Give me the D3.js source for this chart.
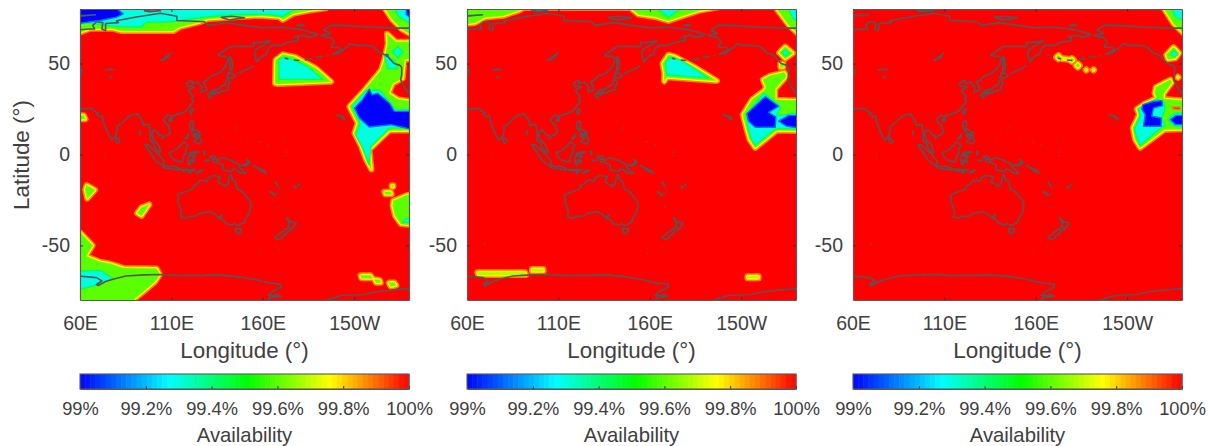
<!DOCTYPE html>
<html><head><meta charset="utf-8">
<script src="https://d3js.org/d3.v7.min.js"></script>
<style>
html,body{margin:0;padding:0;background:#fff;overflow:hidden}
svg{display:block}
text{font-family:"Liberation Sans",Arial,sans-serif;fill:#404040}
</style></head><body>
<svg id="c" width="1212" height="446"></svg>
<script>
// ---------- tick labels and text ----------
const lonTicks=[60,110,160,210];
const lonTickLabels=["60E","110E","160E","150W"];
const latTicks=[-50,0,50];
const cbTicks=[99,99.2,99.4,99.6,99.8,100];
const cbTickLabels=["99%","99.2%","99.4%","99.6%","99.8%","100%"];
const lonDomain=[60,240], latDomain=[-80,80], cbDomain=[99,100];
// ---------- availability levels (%) ----------
const vBlue=99.0, vCyan=99.3, vGreen=99.6, vYellow=99.68, vYellowEdge=99.77, vOrange=99.88, vFull=100;

// ---------- panel 1 contours [lon,lat] ----------
const p1Green=[
 [[58,66.4],[65.5,69.2],[78.2,69.2],[82.8,67.9],[111,67.9],[114.6,70.1],[125.5,72.8],[130,74.6],[158.3,76.4],[169.2,75.5],[171,74.1],[176.5,77.4],[185.6,79.2],[194.7,80.5],[194.7,82],[58,82]],
 [[226,82],[227,80],[231,74],[236,69],[241,66],[241,82]],
 [[228,66.4],[232.9,61.9],[242,61.9],[242,52.8],[237.5,52.2],[236.5,41.9],[231.1,39.1],[228.9,33.7],[233.8,30.4],[242,29.1],[242,13.3],[229.3,13.3],[218.3,2.7],[219.4,-8.2],[216.5,-2.7],[213.8,4.6],[210.2,11.8],[212,17.3],[207.4,26.4],[216.5,36.4],[224.7,46.4],[226.5,51.9],[228.4,61]],
 [[167,51.9],[171,55],[177.4,53.7],[189.2,47.3],[197.4,40],[168.3,38.8],[166.7,39.1]],
 [[58,21.5],[62,21.5],[63,19.5],[58,19.5]],
 [[63.6,-16.9],[68.2,-19.5],[64,-24.2],[62.9,-19.5]],
 [[97.9,-27.5],[93.7,-33.7],[91.3,-32.2],[93.7,-29.1]],
 [[58,-42.8],[60,-42.8],[66.9,-50],[63.3,-55.9],[70.9,-59],[76.4,-60],[83.7,-62.4],[101.9,-62.8],[103.7,-66],[101,-70],[94.6,-75.5],[90,-79.2],[89,-82],[58,-82]],
 [[231.4,-25.5],[238.7,-22.4],[242,-21.8],[242,-38.8],[235.6,-38.2],[232.4,-33.7],[231.1,-28.2]],
 [[226.5,-20.6],[230,-20.6],[230.5,-21.8],[227,-21.8]],
 [[230.6,-17],[231.4,-17],[231.4,-17.8],[230.6,-17.8]],
 [[213.5,-66.5],[219,-66.5],[220,-68],[214,-68]],
 [[221,-68.7],[224,-69],[224.5,-70.5],[222,-70.5]],
 [[229,-70.5],[232,-70.5],[233,-72],[230,-72.5]]
];
const p1Cyan=[
 [[59,73],[71,71.5],[78,70.5],[88.2,70.1],[93.7,70.1],[96.4,72.8],[105.5,72.8],[111.9,73.3],[125.5,75.2],[143.7,77],[163.7,77],[171,75.9],[174.7,78.3],[180,80.6],[180,82],[59,82]],
 [[232,81],[234,76],[241,72],[241,81]],
 [[208.9,26.4],[216.5,35.1],[223.8,35.5],[232.9,24.6],[242,24.6],[242,14.6],[229.3,14.6],[219.3,4.6],[218,-5.5],[214.7,3.6],[210.7,10.9],[213.2,16.9]],
 [[231.1,56.4],[233.8,59.2],[236.9,56.4],[233.8,53.3]],
 [[226.5,54.6],[232,51.9],[233.8,47.3],[228.4,47.3]],
 [[168.8,52.2],[171.9,53.7],[177.4,51.9],[184.7,48.2],[192.9,41.3],[168.8,41.3]],
 [[58,-64.2],[71,-63.7],[78,-68],[69,-71.9],[58,-74.6]],
 [[236.5,-37.5],[241,-37],[241,-35],[238,-35.5]]
];
const p1Blue=[
 [[59,72],[71,73.7],[80,75.5],[83.7,77.3],[79,81],[59,81]],
 [[238.5,81],[238.5,77],[241,75],[241,81]],
 [[210.2,25.5],[214.7,30.4],[218.3,35.9],[219.8,32.8],[222.9,33.7],[229.3,28.2],[232,23.7],[242,23.7],[242,13.7],[230.2,16.4],[218.3,15.1],[212.9,20]],
 [[227.5,55],[228.5,55],[228.5,54],[227.5,54]]
];
// ---------- panel 2 contours ----------
const p2Green=[
 [[58,71.7],[64.4,72.4],[69.9,75.4],[79.9,76.3],[88,79],[91.8,81],[58,82]],
 [[90,80.6],[151,80.6],[151,82],[90,82]],
 [[149.2,82],[149.2,80.8],[153.8,77],[162.9,75.7],[170.2,73.5],[178.4,76.3],[186.7,79],[197.6,81],[198,82]],
 [[228,82],[236,71.2],[241,66.5],[241,82]],
 [[167,50],[170.2,54.8],[173.9,53.8],[183.9,48.4],[196.7,40.5],[169.3,42.5],[167.9,40.2],[168,44.7]],
 [[230.8,56],[234.1,59.3],[238.3,55.7],[234.1,52.7]],
 [[231.5,50],[233,50],[233,48],[231.5,48]],
 [[221.9,41.1],[225.9,43.3],[233.6,45.1],[234.7,42.9],[228.6,36],[228.6,30.1],[242,29.6],[242,13],[229.5,13.3],[217.7,3.7],[214.6,8.2],[212.8,14.6],[210.9,21.9],[215.9,30.1],[222.6,35.2],[223.7,37]]
];
const p2Yellow=[
 [[65.7,-64.8],[91.8,-64.8],[92.3,-66.2],[66.2,-66.2]],
 [[95.6,-63],[101.8,-63],[101.8,-64.2],[95.6,-64.2]],
 [[213.5,-67],[219.5,-67],[219.5,-68],[213.5,-68]]
];
const p2Cyan=[
 [[163,81],[170.2,75.4],[178,81]],
 [[236,81],[238,75],[241,73],[241,81]],
 [[168.4,50.2],[171.1,53.5],[176.6,52],[183.9,47.5],[192.1,42],[169.3,43.8]],
 [[232.3,56],[234,57.5],[236.5,55.7],[234,54]],
 [[212.8,21.9],[222.6,33.8],[231.7,26.1],[229.5,21.4],[242,23],[242,14],[228.6,14.2],[217.7,4.9],[215.3,9.1],[213.7,14.6]]
];
const p2Blue=[
 [[213.1,22.4],[223.2,31.9],[230.5,26.5],[225,23.2],[229,20.6],[228.6,15],[217.7,15],[214,18.3]],
 [[230.5,18.3],[235.9,21.5],[242,21.5],[242,14.6],[235,15.5]]
];
// ---------- panel 3 contours ----------
const p3Green=[
 [[229,82],[235.4,72],[241,66.5],[241,82]],
 [[231.4,54.8],[235.4,59],[238.5,55.7],[236.3,52.9],[232.3,52.4]],
 [[225.7,37],[233.6,41.1],[234.5,39.6],[229.9,33.4],[229.9,30.5],[242,29.5],[242,14],[230.5,13.7],[217.1,3.7],[214.4,8.2],[213.1,14.6],[216.6,21.9],[215.3,25],[219.5,27.9],[226.3,31],[225,33.8]],
 [[171.2,53.5],[172.4,54.7],[173.6,53.5],[172.4,52.3]],
 [[178.5,52],[179.7,53],[180.9,52],[179.7,51]],
 [[181.9,48.9],[183,50],[184.1,48.9],[183,47.8]]
];
const p3Yellow=[
 [[174,53],[178,52.6],[178,52.2],[174,52.6]],
 [[187.3,46.5],[187.6,46.8],[187.9,46.5],[187.6,46.2]],
 [[191.3,46.5],[191.6,46.8],[191.9,46.5],[191.6,46.2]],
 [[237.5,42.5],[237.8,42.8],[238.1,42.5],[237.8,42.2]]
];
const p3Holes=[[[234.5,26.1],[239,26.1],[239,24.6],[235.4,25]]];
const p3Cyan=[
 [[234.5,81],[236,76],[241,73.5],[241,81]],
 [[233.6,55.3],[235.8,57.5],[237.8,54.8],[235.4,53.8]],
 [[214,14],[217.1,21],[216.2,25],[219.9,27.4],[226.3,30.7],[230.5,28.3],[230.5,24.6],[229,20],[230.8,15.9],[228,14.2],[217.1,4.9],[215.3,9.1]],
 [[232.3,19.2],[236.3,22.8],[242,22.8],[242,15],[235.4,15.9]]
];
const p3Blue=[
 [[218.6,27.4],[224.4,29.2],[229,29.6],[229.4,26.8],[224.4,25.6],[223.5,21],[228.6,20.1],[228.6,15.5],[218.9,15.5],[219.9,21.9],[218,25]],
 [[233.6,19.2],[236.8,21.5],[242,21.5],[242,16.5],[236.5,16.4]]
];

// ---------- coastlines [lon,lat] ----------
const coastAsiaSouth=[[58,25.5],[61.5,25.1],[66.5,25.4],[67.5,24],[70,23],[69,22.3],[70.5,20.8],[72.2,21.2],[72.7,19],[73.5,16],[74.8,13],[76.3,9.8],[77.5,8.1],[79,9.3],[79.9,11],[80.3,13.5],[80.2,15.5],[82.3,16.7],[85,19.5],[87,21],[88.5,21.7],[90.5,22.3],[91.8,22.2],[92.5,20.5],[94.3,18.2],[94.5,16],[96,16.4],[97.6,16.5],[98.5,12.5],[98.3,8.2],[100.3,5.6],[101.3,3],[103.5,1.3],[104.2,1.5],[103.4,4],[102.3,6.2],[100.5,7.2],[99.9,9.3],[99.2,10.8],[100,13.4],[100.9,13.4],[102.5,12],[103,11],[104.8,10.4],[105,8.7],[106.7,10.3],[109.2,11.5],[109.3,13],[108.3,16],[106.5,17.7],[105.7,19],[106.6,20.5],[108,21.6],[110,21],[110.3,20.3],[110.5,21.2],[113.5,22.2],[116.7,23.2],[118.5,24.6],[120,26.5],[121.9,29],[121,30.6],[122,31.5],[120.9,33],[119.3,35],[120.5,36.2],[122.5,37],[121,37.7],[119,37.3],[118,39],[121,40.8],[121.5,39],[124.3,40],[125.2,38.5],[126.5,37.5],[126.3,35],[126.5,34.4],[129,35.2],[129.5,36],[128.5,38],[127.5,39.8],[129.8,41],[130.7,42.3],[132,43.2],[135.5,44.5],[138.5,47],[140.4,50],[141,53],[139,54],[137,54],[135.3,54.7],[138,56.5],[142,59.3],[149,59.6],[155,59.3],[155,61.5],[160,61.8],[164,62.5],[160,60],[156,57.5],[155.6,55],[156.7,51],[158.5,53],[160,54.5],[162,55],[163,58],[165,60],[170,60],[174,61.8],[179,62.5],[179.5,64.8],[177.5,64.7],[182,65.5],[186,64.5],[190.3,66],[187,67],[180,68.9],[170,70],[160,69.7],[150,71],[140,72.5],[130,71],[128,73],[113,73.7],[113,76],[104,77.7],[90,75.5],[80,73.5],[81,72.5],[74,72],[74,68],[72,69],[72.5,72.5],[69,73],[67,71],[68,69],[66,69],[58,68.5]];
const coastAlaska=[[240,69.5],[235,69.5],[220,70],[204,71],[197,71],[193.5,68.3],[197,66.5],[192,65.5],[195,64.5],[197,64.5],[199,62],[197.5,59],[202,58.8],[203,57.5],[198,55.2],[201,55.5],[204,57.5],[206,59],[208,61],[211,60],[215,60],[220,59.5],[222,58],[224,56],[228,54.5],[230,52],[232,50],[235,49],[236,48],[236,44],[235.5,41],[237.5,37],[239,34.5],[242,33]];
const coastAntarcticaA=[[58,-66.7],[69,-67.7],[72,-69.5],[69,-71.5],[70,-72],[74,-69.8],[78,-68.6],[85,-66.8],[95,-66.2],[105,-66],[115,-66.6],[125,-66.5],[135,-66.2],[145,-67],[155,-68.6],[163,-70.5],[170.3,-71.4],[170,-73],[166,-75],[163,-77.5],[167,-77.5],[170,-78],[164,-78.5],[163,-80],[164,-82]];
const coastAntarcticaB=[[195,-80],[200,-78.5],[203,-77.5],[215,-77],[223,-75.3],[230,-74.6],[240,-73.7],[242,-73.5]];
const coastIslands=[
 [[60,76.2],[68.5,76.8],[60,76.1]],
 [[95,79],[100,79.8],[104,79],[98,78.5],[95,79]],
 [[137,75.5],[143,76],[150,75.2],[142,74],[137,75.5]],
 [[178.5,71],[181,71.5],[182.5,71],[178.5,71]],
 [[142,54],[143,52],[143.5,49],[143,46.5],[142,46],[142,50],[142,54]],
 [[140,42],[141.5,45.3],[145,43.5],[143,42],[141,42.5],[140,42]],
 [[131,34],[133,35.5],[136,36],[137,37.3],[139.5,38.5],[140,40.5],[141,41.3],[142,39.5],[141,37],[140.8,35.5],[139,35],[137,34.6],[135.7,33.5],[135,34.5],[132.5,34],[131,34]],
 [[130,33.3],[131.7,33.7],[131.6,31.5],[130.5,31.2],[130,33.3]],
 [[132.5,33.8],[134.5,34.2],[134,33.3],[133,32.8],[132.5,33.8]],
 [[146,44.5],[148.5,45.5],[150,46.3],[153,47.5],[155,49]],
 [[121,25],[122,24.7],[120.8,22],[120,23.5],[121,25]],
 [[108.8,19.5],[110.5,20],[110.3,18.5],[109,18.3],[108.8,19.5]],
 [[120.5,18.3],[122,18.3],[122,16],[121.6,14],[124,13],[123,13.5],[120.7,13.8],[120,16],[120.5,18.3]],
 [[122,7],[123.5,8.5],[125.5,9.8],[126.5,7.5],[125.5,5.8],[124,6.5],[122,7]],
 [[117.2,8.4],[119.5,11.3],[119,9.5],[117.2,8.4]],
 [[121,12.5],[121.5,13.4],[121.2,12.3],[121,12.5]],
 [[122,11.8],[123.2,11.5],[123,9.5],[122.3,10],[122,11.8]],
 [[124.3,12.5],[125.7,12.3],[125.3,10.2],[124.5,11],[124.3,12.5]],
 [[123.4,11.2],[124,10.3],[123.4,9.5],[123.4,11.2]],
 [[109,1.5],[111,1.5],[113,3.2],[115,5],[116.8,7],[119,5.2],[117.8,3],[118,1],[116.5,-1],[116,-4],[114.5,-4],[111.5,-3],[110,-1.5],[109,0.5],[109,1.5]],
 [[95.3,5.6],[97.5,5.2],[100.5,2.2],[103.5,0],[104.5,-2],[106,-3.2],[105.7,-5.8],[104.5,-5.8],[101,-3],[98.8,0.5],[97,3],[95.3,5.6]],
 [[105.2,-6.8],[106.8,-6],[108.5,-6.7],[110.8,-6.4],[112.7,-7],[114.5,-7.8],[114.3,-8.6],[110,-8],[106.5,-7.4],[105.2,-6.8]],
 [[119.5,-5.5],[119,-3],[119.8,0.5],[121,1.2],[125,1.5],[123,0.4],[120.3,0.3],[121,-1],[123.3,-0.9],[122,-2],[122.5,-4.5],[121.5,-4],[121,-2.8],[120.4,-3],[120.4,-5.5],[119.5,-5.5]],
 [[115,-8.2],[116.8,-8.3],[119,-8.3],[120,-8.4],[123,-8.3],[122.8,-8.8],[119,-8.9],[116,-8.9],[115,-8.2]],
 [[119.2,-9.5],[120.7,-9.7],[120.3,-10.2],[119.2,-9.5]],
 [[123.5,-10.3],[125,-9],[127.2,-8.4],[125,-9.8],[123.5,-10.3]],
 [[127.5,2],[128.3,1.5],[128,-0.5],[127.7,0.8],[127.5,2]],
 [[127.9,-3],[130.8,-3.2],[129,-3.5],[127.9,-3]],
 [[131,-0.8],[134,-0.8],[135,-3.3],[138,-1.6],[141,-2.6],[145,-4.3],[147.8,-6.2],[147,-6.8],[150.8,-10.3],[147.5,-10],[146,-8.5],[143.5,-8],[143,-9.2],[141,-9.1],[138,-8.2],[138.5,-7],[138,-5.5],[135,-4.4],[133,-4],[132.8,-2.8],[134,-2.5],[132,-2],[131,-0.8]],
 [[148.5,-5.6],[150.5,-5.5],[152,-4.2],[152.3,-5],[151,-6],[149,-6.2],[148.5,-5.6]],
 [[150.8,-2.6],[152.5,-3.5],[153,-4.6],[151.5,-3.2],[150.8,-2.6]],
 [[155,-5.6],[156,-6.8],[155,-6.5],[155,-5.6]],
 [[156.5,-7],[159,-8],[161,-9.8],[159,-9],[156.5,-7]],
 [[160.5,-8.5],[162,-10.5],[161,-9.5],[160.5,-8.5]],
 [[166.6,-15],[167.3,-15.5],[167,-16],[166.6,-15]],
 [[167.5,-16.3],[168.4,-17.5],[167.6,-16.7],[167.5,-16.3]],
 [[164,-20.2],[167,-22.4],[166.3,-22.3],[164,-20.6],[164,-20.2]],
 [[177.3,-17.5],[178.6,-17.7],[178.2,-18.2],[177.3,-18],[177.3,-17.5]],
 [[179,-16.5],[180,-16.3],[179.5,-16.9],[179,-16.5]],
 [[113.5,-22],[114.2,-21.8],[116.8,-20.6],[119,-20],[121.5,-19],[122.2,-17.2],[124,-16.3],[125.5,-14.5],[127.5,-14],[129.5,-14.9],[130.5,-12.5],[132.5,-11.5],[135.5,-12],[136.8,-12.2],[135.5,-15],[139.5,-17.5],[141,-16],[141.6,-12.5],[142.5,-10.8],[143.5,-14],[145.3,-15],[146,-18.8],[149,-20.5],[150.8,-23],[153,-25.5],[153.5,-28],[152.5,-32.5],[150.7,-35],[150,-37.3],[146.5,-39],[144.5,-38],[143,-38.8],[140,-38],[138,-35.6],[136.5,-35.2],[137.7,-33],[135.8,-34.8],[134,-32.8],[131,-31.5],[126,-32.3],[123.5,-33.9],[120,-34],[118,-35],[115,-34.3],[115.5,-31.5],[114.5,-28.5],[113.5,-26],[113.7,-24],[113.5,-22]],
 [[144.7,-40.7],[148.2,-40.8],[148,-42.5],[146.8,-43.6],[145.5,-42.8],[144.7,-40.7]],
 [[172.7,-34.5],[174.5,-36],[175.5,-37],[178.3,-37.7],[177,-39.5],[175.3,-41.6],[175,-40],[173.8,-39.3],[174.8,-37.8],[173,-35],[172.7,-34.5]],
 [[172.7,-40.6],[174.3,-41.5],[172.8,-43.7],[171.2,-44.5],[170.5,-46],[168.5,-46.6],[166.5,-45.8],[168.5,-44],[171.3,-42],[172.7,-40.6]],
 [[199.7,22.2],[201,21.4],[203.5,21],[204.9,19.5],[204,19.1],[203,20.7],[201,21.3]],
 [[79.7,9.5],[81.2,8.6],[81.8,7],[80.6,5.9],[79.9,7],[79.7,9.5]],
 [[92.8,13.5],[93,12],[92.6,11],[92.8,13.5]],
 [[73.5,46.5],[76,46.8],[79,46.6]],
 [[76,42.7],[78,42.5]],
 [[103.8,51.7],[106,52.8],[109.5,55.7],[108,53.5],[105,51.8]],
 [[58,46],[61,46.5],[60.5,44],[58.5,44]],
 [[166,55],[168,54.7]],[[172,53],[174,52.5]],[[177,52],[180,51.7]],[[183,52],[187,52.7]],[[189,53.5],[193,54]],[[195,54.5],[196,54]],
 [[167,-77],[170,-77.5]]
];
const coastAll=[coastAsiaSouth,coastAlaska,coastAntarcticaA,coastAntarcticaB,...coastIslands];
const smallIslandLon=[134.5,138,144.7,151.8,158.2,163,171.4,173,145.7,172.9,168,69.5,73.3,168,169,158.8,169,166.5,70];
const smallIslandLat=[7.5,9.5,13.5,7.4,6.9,5.3,7.1,1.4,15.2,-1,-21.5,-49.3,-0.5,-29,-52.5,-54.5,-19,-50.7,-49.5];

const panelData=[
 {green:p1Green,yellow:[],holes:[],cyan:p1Cyan,blue:p1Blue},
 {green:p2Green,yellow:p2Yellow,holes:[],cyan:p2Cyan,blue:p2Blue},
 {green:p3Green,yellow:p3Yellow,holes:p3Holes,cyan:p3Cyan,blue:p3Blue}
];
const panelLeft=[80,467,853];
const panelW=329, plotTop=9, panelH=291, cbTop=374, cbH=15, nSteps=64;
const jet=d3.scaleLinear().domain([99,99.27,99.51,99.76,100]).range(['#0000ff','#00ffff','#00ff00','#ffff00','#ff0000']);
const axisColor='#5a5a5a';

const svg=d3.select('#c');
const defs=svg.append('defs');
const soft=defs.append('filter').attr('id','soft').attr('x','-2%').attr('y','-2%').attr('width','104%').attr('height','104%');
soft.append('feGaussianBlur').attr('stdDeviation',0.45);
defs.append('clipPath').attr('id','plot').append('rect').attr('width',panelW).attr('height',panelH);

panelData.forEach((d,i)=>{
 const g=svg.append('g').attr('transform',`translate(${panelLeft[i]},${plotTop})`);
 const x=d3.scaleLinear().domain(lonDomain).range([0,panelW]);
 const y=d3.scaleLinear().domain(latDomain).range([panelH,0]);
 const poly=d3.line().x(p=>x(p[0])).y(p=>y(p[1])).curve(d3.curveLinearClosed);
 const openLine=d3.line().x(p=>x(p[0])).y(p=>y(p[1]));
 const map=g.append('g').attr('clip-path','url(#plot)').append('g').attr('filter','url(#soft)');
 map.append('rect').attr('x',-3).attr('y',-3).attr('width',panelW+6).attr('height',panelH+6).attr('fill',jet(vFull));
 const layer=(data,val,strokeVal,w)=>map.append('g').selectAll('path').data(data).join('path')
   .attr('d',poly).attr('fill',val==null?'none':jet(val)).attr('stroke',strokeVal==null?'none':jet(strokeVal))
   .attr('stroke-width',w||0).attr('stroke-linejoin','round');
 const halo=d.green.concat(d.yellow);
 layer(halo,null,vOrange,6.2);
 layer(halo,null,vYellowEdge,3.2);
 layer(d.green,vGreen,vGreen,0.4);
 layer(d.yellow,vYellow,vYellow,0.4);
 layer(d.holes,vFull,vOrange,1.6);
 layer(d.cyan,vCyan,99.42,1.4);
 layer(d.blue,vBlue,99.12,1.4);
 map.append('g').selectAll('path').data(coastAll).join('path').attr('d',openLine).attr('fill','none')
   .attr('stroke','#565656').attr('stroke-width',1.6).attr('stroke-linejoin','round');
 map.append('g').selectAll('circle').data(smallIslandLon).join('circle')
   .attr('cx',v=>x(v)).attr('cy',(v,k)=>y(smallIslandLat[k])).attr('r',0.8).attr('fill','#565656');
 // axes
 const mkAxis=(gen,tr)=>{const a=g.append('g').attr('transform',tr).call(gen);
   a.selectAll('path.domain').attr('stroke',axisColor).attr('stroke-width',1.2);
   a.selectAll('line').attr('stroke','#333').attr('stroke-width',1);
   a.selectAll('text').attr('fill','#404040').style('font-size','19.5px').style('font-family','"Liberation Sans",Arial,sans-serif');return a;};
 mkAxis(d3.axisBottom(x).tickValues(lonTicks).tickSize(-3).tickSizeOuter(0).tickPadding(16).tickFormat((v,k)=>lonTickLabels[k]),`translate(0,${panelH})`);
 mkAxis(d3.axisTop(x).tickValues(lonTicks).tickSize(-3).tickSizeOuter(0).tickFormat(''),'translate(0,0)');
 mkAxis(d3.axisLeft(y).tickValues(latTicks).tickSize(-3).tickSizeOuter(0).tickPadding(10).tickFormat(v=>String(v)),'translate(0,0)');
 mkAxis(d3.axisRight(y).tickValues(latTicks).tickSize(-3).tickSizeOuter(0).tickFormat(''),`translate(${panelW},0)`);
 g.append('text').attr('x',panelW/2).attr('y',349).attr('text-anchor','middle').style('font-size','22.4px').text('Longitude (°)');
 // colour bar
 const cbX=d3.scaleLinear().domain(cbDomain).range([0,panelW]);
 const cb=svg.append('g').attr('transform',`translate(${panelLeft[i]},${cbTop})`);
 const stepW=panelW/nSteps;
 cb.append('g').attr('filter','url(#soft)').selectAll('rect').data(d3.range(nSteps)).join('rect')
   .attr('x',k=>cbX(99+k/nSteps)).attr('y',0).attr('width',stepW+0.5).attr('height',cbH)
   .attr('fill',k=>jet(99+(k+0.5)/nSteps));
 const cbA=cb.append('g').attr('transform',`translate(0,${cbH})`)
   .call(d3.axisBottom(cbX).tickValues(cbTicks).tickSize(-3).tickSizeOuter(0).tickPadding(13).tickFormat((v,k)=>cbTickLabels[k]));
 cbA.selectAll('path.domain').attr('stroke',axisColor).attr('stroke-width',1);
 cbA.selectAll('line').attr('stroke','#333');
 cbA.selectAll('text').attr('fill','#404040').style('font-size','18.3px').style('font-family','"Liberation Sans",Arial,sans-serif');
 cb.append('rect').attr('width',panelW).attr('height',cbH).attr('fill','none').attr('stroke',axisColor).attr('stroke-width',1.1);
 cb.append('text').attr('x',panelW/2).attr('y',67.5).attr('text-anchor','middle').style('font-size','20.3px').text('Availability');
});
svg.append('text').attr('transform','translate(29,155) rotate(-90)').attr('text-anchor','middle').style('font-size','22.4px').text('Latitude (°)');
</script>
</body></html>
